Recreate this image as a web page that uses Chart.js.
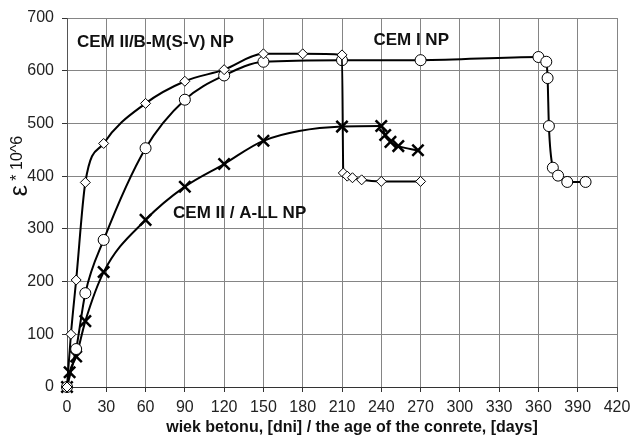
<!DOCTYPE html>
<html>
<head>
<meta charset="utf-8">
<script src="https://cdn.jsdelivr.net/npm/chart.js@4.4.1/dist/chart.umd.min.js"></script>
<style>
    html, body { margin: 0; padding: 0; background: #fff; }
    #wrap { width: 632px; height: 438px; }
</style>
</head>
<body>
<div id="wrap"><canvas id="myChart" width="632" height="438"></canvas></div>
<script>
window.addEventListener('DOMContentLoaded', () => {

    // CEM II/B-M(S-V) NP (diamonds)
    const daysBM = [0, 3, 7, 14, 28, 60, 90, 120, 150, 180, 210, 211, 214, 218, 225, 240, 270]
    const strainBM = [0, 100, 203, 388, 462, 538, 580, 602, 632, 632, 630, 406, 400, 397, 393, 390, 390]

    // CEM I NP (circles)
    const daysCEMI = [0, 7, 14, 28, 60, 90, 120, 150, 210, 270, 360, 366, 367, 368, 371, 375, 382, 396]
    const strainCEMI = [0, 72, 178, 279, 453, 545, 591, 617, 620, 620, 626, 617, 586, 495, 416, 401, 389, 389]

    // CEM II / A-LL NP (crosses)
    const daysALL = [0, 2, 7, 14, 28, 60, 90, 120, 150, 210, 240, 243, 247, 253, 268]
    const strainALL = [0, 28, 58, 125, 218, 317, 380, 423, 467, 494, 495, 478, 465, 457, 449]

    const xTicks = [0, 30, 60, 90, 120, 150, 180, 210, 240, 270, 300, 330, 360, 390, 420]
    const yTicks = [0, 100, 200, 300, 400, 500, 600, 700]

    const seriesNames = ['CEM II/B-M(S-V) NP', 'CEM I NP', 'CEM II / A-LL NP']
    const xTitle = 'wiek betonu, [dni] / the age of the conrete, [days]'

    const FONT = "'Liberation Sans', Arial, sans-serif"

    const toPts = (xs, ys) => xs.map((x, i) => ({ x: x, y: ys[i] }))

    // where the series names sit (data coords, left aligned)
    const nameSpots = [[7.6, 653], [234, 658], [81, 330]]

    const textPlugin = {
        id: 'texts',
        afterDraw(chart) {
            const c = chart.ctx
            const xs = chart.scales.x
            const ys = chart.scales.y
            c.save()
            c.fillStyle = '#111'
            c.font = `bold 17px ${FONT}`
            c.textBaseline = 'middle'
            c.textAlign = 'left'
            seriesNames.forEach((n, i) => {
                c.fillText(n, xs.getPixelForValue(nameSpots[i][0]), ys.getPixelForValue(nameSpots[i][1]))
            })

            // x axis title
            c.font = `bold 16px ${FONT}`
            c.textAlign = 'center'
            c.fillText(xTitle, 352, 428)

            // y axis title, rotated
            c.translate(18, 166)
            c.rotate(-Math.PI / 2)
            c.font = `25px ${FONT}`
            const w1 = c.measureText('\u03b5').width
            c.font = `16px ${FONT}`
            const w2 = c.measureText(' * 10^6').width
            let start = -(w1 + w2) / 2
            c.textAlign = 'left'
            c.font = `25px ${FONT}`
            c.fillText('\u03b5', start, 2)
            c.font = `16px ${FONT}`
            c.fillText(' * 10^6', start + w1, 0)
            c.restore()
        }
    }

    const common = {
        borderColor: '#000',
        borderWidth: 2,
        pointBorderColor: '#000',
        pointBackgroundColor: '#fff',
        cubicInterpolationMode: 'monotone',
        showLine: true,
        clip: false,
        fill: false
    }

    const ctx = document.getElementById('myChart').getContext('2d')
    const myChart = new Chart(ctx, {
        type: 'scatter',
        data: {
            datasets: [
                {
                    ...common,
                    label: seriesNames[0],
                    data: toPts(daysBM, strainBM),
                    pointStyle: 'rectRot',
                    pointRadius: 5,
                    pointBorderWidth: 1
                },
                {
                    ...common,
                    label: seriesNames[1],
                    data: toPts(daysCEMI, strainCEMI),
                    pointStyle: 'circle',
                    pointRadius: 5.5,
                    pointBorderWidth: 1
                },
                {
                    ...common,
                    label: seriesNames[2],
                    data: toPts(daysALL, strainALL),
                    pointStyle: 'crossRot',
                    pointRadius: 8,
                    pointBorderWidth: 2.5
                }
            ]
        },
        options: {
            responsive: false,
            animation: false,
            layout: { padding: { left: 0, right: 15, top: 18, bottom: 0 } },
            plugins: {
                legend: { display: false },
                tooltip: { enabled: false }
            },
            scales: {
                x: {
                    type: 'linear',
                    min: 0,
                    max: 420,
                    afterBuildTicks: s => { s.ticks = xTicks.map(v => ({ value: v })) },
                    afterFit: s => { s.height = 51; s.paddingLeft = 0; s.paddingRight = 0 },
                    grid: { color: '#858585', tickColor: '#333', tickLength: 5 },
                    border: { color: '#333' },
                    ticks: { font: { family: FONT, size: 16 }, color: '#222', padding: 6, maxRotation: 0 }
                },
                y: {
                    type: 'linear',
                    min: 0,
                    max: 700,
                    afterBuildTicks: s => { s.ticks = yTicks.map(v => ({ value: v })) },
                    afterFit: s => { s.width = 67; s.paddingTop = 0; s.paddingBottom = 0 },
                    grid: { color: '#858585', tickColor: '#333', tickLength: 5 },
                    border: { color: '#555' },
                    ticks: { font: { family: FONT, size: 16 }, color: '#222', padding: 8 }
                }
            }
        },
        plugins: [textPlugin]
    })
})
</script>
</body>
</html>
